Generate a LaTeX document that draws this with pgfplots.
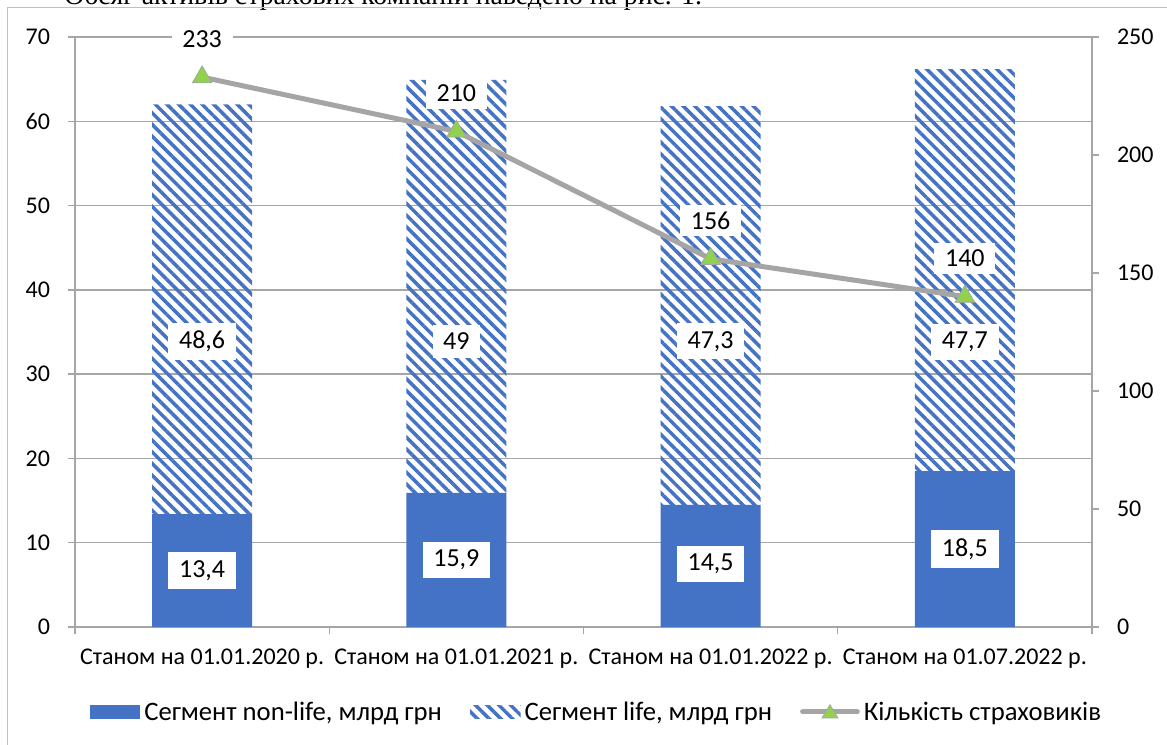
\documentclass[border=0pt]{standalone}
\usepackage{fontspec}
\setmainfont{Carlito}
\newfontfamily\serif{Liberation Serif}
\usepackage{pgfplots}
\pgfplotsset{compat=1.18}
\usetikzlibrary{patterns.meta}
\definecolor{cblue}{HTML}{4472C4}
\definecolor{cgray}{HTML}{A5A5A5}
\definecolor{cgreen}{HTML}{92D050}
\definecolor{cgrid}{HTML}{A6A6A6}
\newcommand{\fs}{\fontsize{18}{21}\selectfont}
\newcommand{\fl}{\fontsize{19.5}{23}\selectfont}
\newcommand{\fg}{\fontsize{20}{24}\selectfont}
\pgfplotsset{
  common/.style={
    at={(56.25pt,87.75pt)}, anchor=south west, scale only axis,
    width=762.75pt, height=442.5pt,
    xmin=-0.5, xmax=3.5, enlargelimits=false,
    /pgf/number format/assume math mode=true,
    tick label style={font=\fs, text=black},
    tick align=outside, major tick length=5.25pt,
    every tick/.style={cgrid, line width=1pt},
    axis line style={cgrid, line width=1pt},
  },
  barleg/.style={legend image code/.code={\fill[##1] (0pt,-5pt) rectangle (38pt,5pt);}},
  lineleg/.style={legend image code/.code={%
    \draw[cgray, line width=3.75pt, line cap=round] (0pt,0pt) -- (41pt,0pt);
    \fill[cgreen, draw=cgray, line width=0.5pt] (20.5pt,5.5pt) -- (14.5pt,-4.5pt) -- (26.5pt,-4.5pt) -- cycle;}},
}
\begin{document}
\begin{tikzpicture}[x=0.75pt,y=0.75pt]
\useasboundingbox (0,0) rectangle (1167,744);
\node[anchor=base west,font=\serif\fontsize{20.8}{24}\selectfont,inner sep=0pt] at (64,739) {Обсяг активів страхових компаній наведено на рис. 1.};
\draw[cgray!70, line width=0.75pt] (7,736) rectangle (1190,-20);

% bars
\begin{axis}[common,
  ybar stacked, bar width=75pt,
  ymin=0, ymax=70, ytick={0,10,...,70},
  axis x line*=bottom, axis y line*=left,
  ymajorgrids, grid style={cgrid, line width=1pt},
  xtick={-0.5,0.5,1.5,2.5,3.5}, xticklabels={},
  extra x ticks={0,1,2,3},
  extra x tick labels={Станом на 01.01.2020 р.,Станом на 01.01.2021 р.,Станом на 01.01.2022 р.,Станом на 01.07.2022 р.},
  extra x tick style={tick style={draw=none}, tick label style={yshift=-8pt}},
  yticklabel style={xshift=-10pt},
  legend columns=3,
  legend style={at={(0.513,-0.144)}, anchor=center, draw=none, fill=none, font=\fg,
    /tikz/every even column/.append style={column sep=19pt},
    /tikz/every odd column/.append style={column sep=1pt}},
  legend cell align=left,
]
\addplot[fill=cblue, draw=none, barleg]
  coordinates {(0,13.4) (1,15.9) (2,14.5) (3,18.5)};
\addlegendentry{Сегмент non-life, млрд грн}
\addplot[draw=none, pattern={Lines[angle=-45,distance=6.2pt,line width=2.6pt]}, pattern color=cblue, barleg]
  coordinates {(0,48.6) (1,49) (2,47.3) (3,47.7)};
\addlegendentry{Сегмент life, млрд грн}
\addlegendimage{cgray, lineleg}
\addlegendentry{Кількість страховиків}
\end{axis}

% bar labels
\begin{axis}[common, hide axis, ymin=0, ymax=70, clip=false]
\addplot[draw=none, nodes near coords, point meta=explicit symbolic,
  every node near coord/.append style={anchor=center, fill=white, text=black, font=\fl, inner xsep=8pt, inner ysep=6pt}]
  table[meta=lbl, row sep=\\] {x y lbl \\ 0 6.7 13,4 \\ 1 7.95 15,9 \\ 2 7.5 14,5 \\ 3 9.25 18,5 \\};
\addplot[draw=none, nodes near coords, point meta=explicit symbolic,
  every node near coord/.append style={anchor=center, fill=white, text=black, font=\fl, inner xsep=8pt, inner ysep=6pt}]
  table[meta=lbl, row sep=\\] {x y lbl \\ 0 33.9 48,6 \\ 1 33.9 49 \\ 2 33.9 47,3 \\ 3 33.8 47,7 \\};
\end{axis}

% line on secondary axis
\begin{axis}[common, ymin=0, ymax=250, ytick={0,50,...,250},
  axis y line*=right, axis x line=none, clip=false,
  yticklabel style={xshift=10pt}]
\addplot[cgray, line width=3.75pt, mark=triangle*, mark size=8.5pt,
  mark options={fill=cgreen, draw=cgray, line width=0.5pt},
  nodes near coords, point meta=explicit symbolic,
  every node near coord/.append style={anchor=center, yshift=28.5pt, fill=white, text=black, font=\fl, inner xsep=8pt, inner ysep=5pt}]
  table[meta=lbl, row sep=\\] {x y lbl \\ 0 233 233 \\ 1 210 210 \\ 2 156 156 \\ 3 140 140 \\};
\end{axis}
\end{tikzpicture}
\end{document}
